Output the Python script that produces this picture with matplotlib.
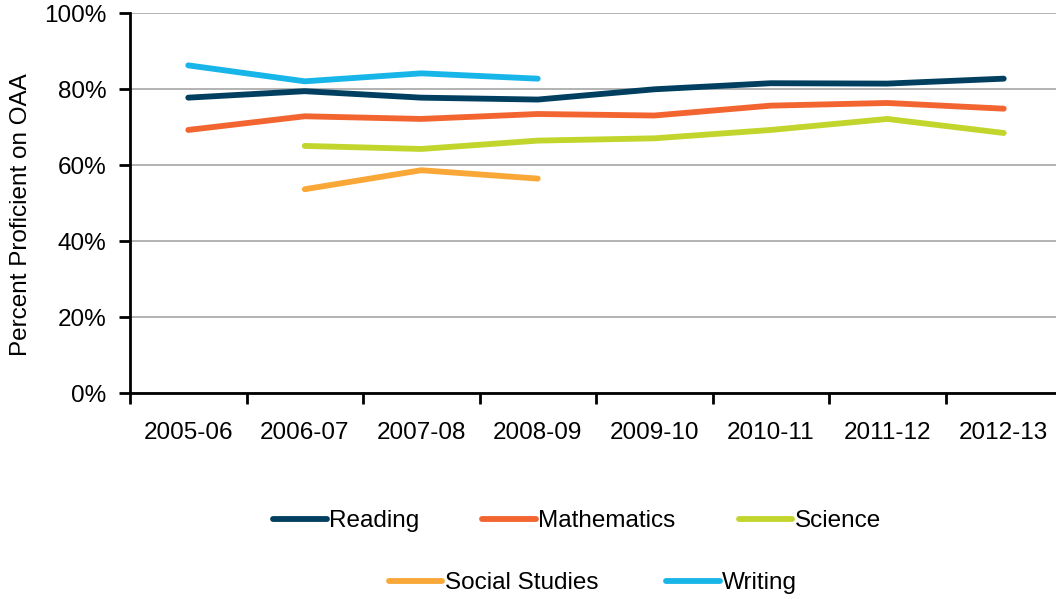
import numpy as np
import matplotlib.pyplot as plt
from matplotlib.ticker import FixedLocator, PercentFormatter

plt.rcParams['font.family'] = ['Liberation Sans', 'DejaVu Sans']

# Percent proficient on the OAA by school year
years = ['2005-06', '2006-07', '2007-08', '2008-09', '2009-10', '2010-11', '2011-12', '2012-13']
reading = [77.8, 79.5, 77.8, 77.3, 80.0, 81.6, 81.5, 82.8]
mathematics = [69.3, 72.9, 72.2, 73.5, 73.1, 75.7, 76.4, 74.9]
science = [np.nan, 65.1, 64.3, 66.5, 67.1, 69.3, 72.2, 68.5]
social_studies = [np.nan, 53.7, 58.7, 56.5, np.nan, np.nan, np.nan, np.nan]
writing = [86.3, 82.1, 84.2, 82.8, np.nan, np.nan, np.nan, np.nan]

series = [
    ('Reading', reading, '#003f5f'),
    ('Mathematics', mathematics, '#f26531'),
    ('Science', science, '#c2d52d'),
    ('Social Studies', social_studies, '#f9a838'),
    ('Writing', writing, '#17b5e8'),
]

W, H = 1056, 599
FS = 17.5
fig = plt.figure(figsize=(W / 100, H / 100), dpi=100)
ax = fig.add_axes([130 / W, (H - 393.3) / H, 932 / W, 380 / H])

x = np.arange(len(years))
lines = []
for name, vals, col in series:
    ln, = ax.plot(x, vals, color=col, lw=4.2, solid_capstyle='round',
                  solid_joinstyle='round', label=name)
    lines.append(ln)

ax.set_xlim(-0.5, len(years) - 0.5)
ax.set_ylim(0, 100)
ax.yaxis.set_major_locator(FixedLocator([0, 20, 40, 60, 80, 100]))
ax.yaxis.set_major_formatter(PercentFormatter(decimals=0))
ax.grid(axis='y', color='#a6a6a6', lw=1.2)
ax.set_axisbelow(True)

# category boundaries get the tick marks, centres get the labels
ax.set_xticks(np.arange(-0.5, len(years)), [''] * (len(years) + 1))
ax.set_xticks(x, years, minor=True)
ax.tick_params(axis='x', which='major', length=8, width=2, direction='out')
ax.tick_params(axis='x', which='minor', length=0, pad=21, labelsize=FS)
ax.tick_params(axis='y', length=8, width=2, direction='out', pad=9, labelsize=FS)

for s in ['top', 'right']:
    ax.spines[s].set_visible(False)
for s in ['left', 'bottom']:
    ax.spines[s].set_linewidth(2)

ax.set_ylabel('Percent Proficient on OAA', fontsize=FS)
ax.yaxis.set_label_coords(-0.105, 0.47)

leg_kw = dict(frameon=False, fontsize=FS, handlelength=2.2, handletextpad=0.1,
              borderaxespad=0, loc='center')
leg1 = fig.legend(lines[:3], [s[0] for s in series[:3]], ncol=3, columnspacing=2.6,
                  bbox_to_anchor=(577 / W, 1 - 521 / H), **leg_kw)
leg2 = fig.legend(lines[3:], [s[0] for s in series[3:]], ncol=2, columnspacing=2.8,
                  bbox_to_anchor=(593 / W, 1 - 583 / H), **leg_kw)

fig.savefig('out.png', dpi=100)
